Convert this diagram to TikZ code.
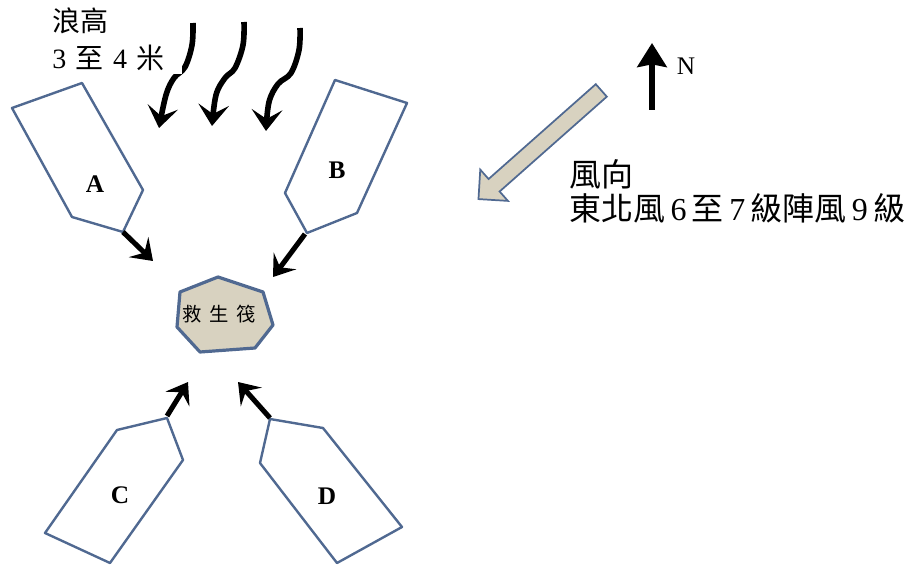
\documentclass[tikz,border=0pt]{standalone}
\usepackage{fontspec}
\setmainfont{Liberation Serif}
\newfontfamily\cjk{Noto Sans CJK TC}
\usetikzlibrary{arrows.meta,shapes.arrows}
\definecolor{boatblue}{RGB}{80,105,145}
\definecolor{rafttan}{RGB}{216,210,192}

\begin{document}
\begin{tikzpicture}[x=0.75pt,y=-0.75pt,
  boat/.style={draw=boatblue, line width=1.8pt, line join=round},
  push/.style={line width=3.8pt, -{Stealth[length=15pt,width=21pt,inset=6pt]}},
  wave/.style={line width=4.2pt, -{Stealth[length=16pt,width=23pt,inset=7pt]}},
  tag/.style={font=\fontsize{19}{22}\selectfont\bfseries},
  note/.style={font=\fontsize{21}{28}\selectfont, align=left}]
\useasboundingbox (0,0) rectangle (906,570);

% waves
\draw[wave] plot[smooth, tension=0.6] coordinates {(193,23) (192,45) (185,67) (174,78) (166,95) (159,128)};
\draw[wave] plot[smooth, tension=0.6] coordinates {(244,22) (243,45) (235,68) (225,78) (216,95) (212,126)};
\draw[wave] plot[smooth, tension=0.6] coordinates {(300,28) (299,50) (291,73) (278,84) (269,102) (266,131)};
\node[note, fill=white, anchor=south east, inner sep=2pt, text width=95pt] (height) at (182,74)
  {{\cjk 浪高}\\3 {\cjk 至} 4 {\cjk 米}};

% boats
\draw[boat] (12,108) -- (82,83) -- (143,190) -- (123,232) -- (72,217) -- cycle;
\draw[boat] (335,80) -- (407,103) -- (357,213) -- (307,233) -- (285,193) -- cycle;
\draw[boat] (167,418) -- (183,460) -- (110,563) -- (45,533) -- (117,430) -- cycle;
\draw[boat] (270,419) -- (323,428) -- (402,527) -- (337,563) -- (260,463) -- cycle;
\node[tag] (boat A) at (95,184) {A};
\node[tag] (boat B) at (337,170) {B};
\node[tag] (boat C) at (120,495) {C};
\node[tag] (boat D) at (327,496) {D};

% raft
\draw[boatblue, line width=2.4pt, fill=rafttan, line join=round] (218,277) -- (263,292) -- (273,325)
  -- (255,348) -- (200,352) -- (177,327) -- (180,292) -- cycle;
\node[font=\cjk\fontsize{14.5}{16}\selectfont] (raft) at (219,314) {救\hspace{6pt}生\hspace{6pt}筏};

% boats heading in
\coordinate (bowA) at (123,232);
\coordinate (bowB) at (305,234);
\coordinate (bowC) at (167,416);
\coordinate (bowD) at (270,418);
\coordinate (toA) at (153,261);
\coordinate (toB) at (273,277);
\coordinate (toC) at (188,382);
\coordinate (toD) at (238,382);
\draw[push] (bowA) -- (toA);
\draw[push] (bowB) -- (toB);
\draw[push] (bowC) -- (toC);
\draw[push] (bowD) -- (toD);

% north and wind
\coordinate (Nfoot) at (652,110);
\coordinate (Ntip) at (652,43);
\draw[line width=4.5pt, -{Stealth[length=18pt,width=22pt,inset=2pt]}] (Nfoot) -- (Ntip);
\node[font=\fontsize{19}{22}\selectfont] (north) at (686,66) {N};
\node[single arrow, draw=boatblue, fill=rafttan, line width=1.3pt, minimum height=123pt,
  inner xsep=0pt, inner ysep=5.6pt, single arrow head extend=9.4pt, rotate=221.5] (wind) at (543,142) {};
\node[font=\fontsize{24}{26}\selectfont, align=left, anchor=north west, inner sep=0pt] (wind text) at (569,159)
  {{\cjk 風向}\\{\cjk 東北風}\,6\,{\cjk 至}\,7\,{\cjk 級陣風}\,9\,{\cjk 級}};
\end{tikzpicture}
\end{document}
